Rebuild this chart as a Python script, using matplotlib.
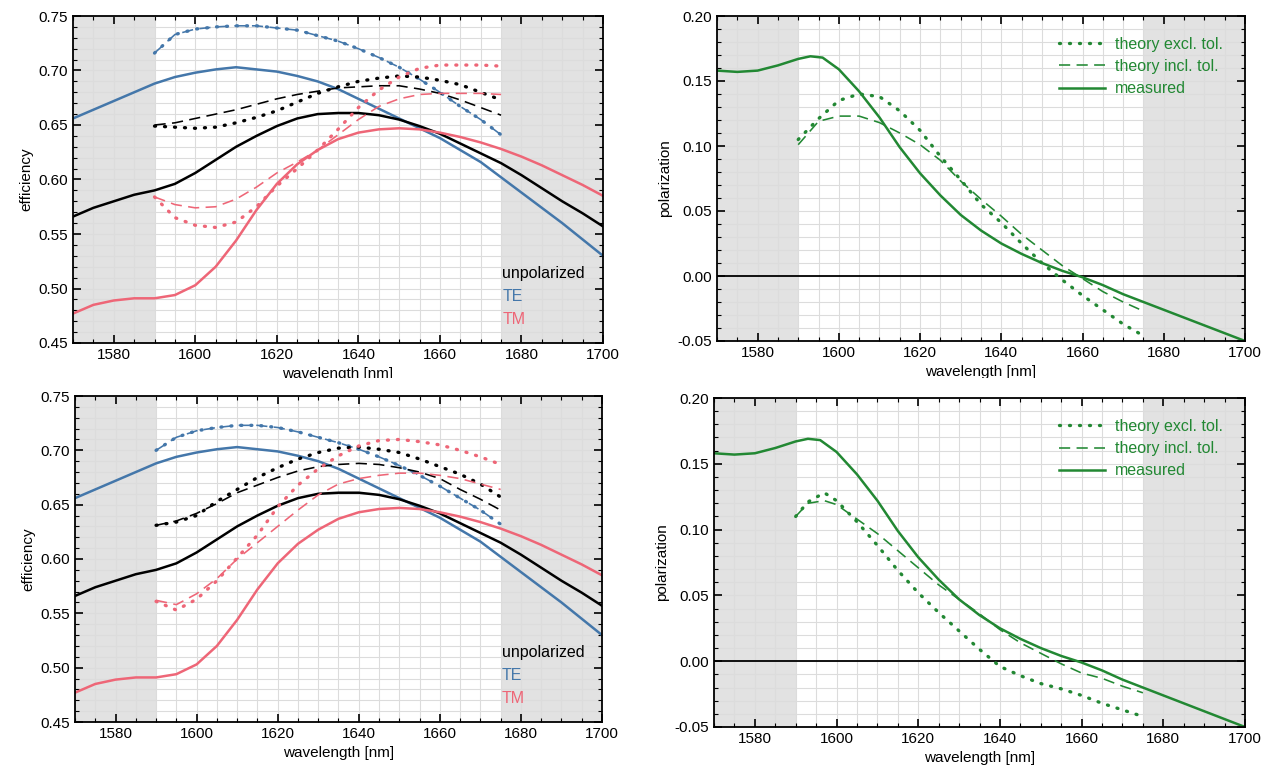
import numpy as np
import matplotlib.pyplot as plt
from matplotlib.ticker import MultipleLocator, FormatStrFormatter
from matplotlib.patches import Rectangle

plt.rcParams['font.family'] = ['Liberation Sans', 'DejaVu Sans']
plt.rcParams['font.size'] = 11

BLUE = '#4477aa'
RED = '#ee6677'
GREEN = '#228833'

# measured efficiency, 1570-1700 nm
wl = [1570, 1575, 1580, 1585, 1590, 1595, 1600, 1605, 1610, 1615, 1620, 1625, 1630, 1635,
      1640, 1645, 1650, 1655, 1660, 1665, 1670, 1675, 1680, 1685, 1690, 1695, 1700]
te_meas = [0.656, 0.664, 0.672, 0.680, 0.688, 0.694, 0.698, 0.701, 0.703, 0.701, 0.699, 0.695, 0.690, 0.683,
           0.674, 0.665, 0.656, 0.647, 0.638, 0.627, 0.616, 0.602, 0.588, 0.574, 0.560, 0.545, 0.530]
unpol_meas = [0.566, 0.574, 0.580, 0.586, 0.590, 0.596, 0.606, 0.618, 0.630, 0.640, 0.649, 0.656, 0.660, 0.661,
              0.661, 0.659, 0.655, 0.649, 0.642, 0.633, 0.624, 0.615, 0.604, 0.592, 0.580, 0.569, 0.557]
tm_meas = [0.477, 0.485, 0.489, 0.491, 0.491, 0.494, 0.503, 0.520, 0.544, 0.572, 0.596, 0.614, 0.627, 0.637,
           0.643, 0.646, 0.647, 0.646, 0.643, 0.639, 0.634, 0.628, 0.621, 0.613, 0.604, 0.595, 0.585]

# simulated efficiency, 1590-1675 nm
wl_th = [1590, 1595, 1600, 1605, 1610, 1615, 1620, 1625, 1630, 1635, 1640, 1645, 1650, 1655, 1660, 1665, 1670, 1675]

# design A
te_th_a = [0.716, 0.733, 0.738, 0.740, 0.741, 0.741, 0.739, 0.737, 0.732, 0.727, 0.720, 0.712, 0.703, 0.692, 0.680, 0.667, 0.655, 0.641]
unpol_excl_a = [0.649, 0.648, 0.647, 0.648, 0.652, 0.657, 0.663, 0.671, 0.679, 0.685, 0.690, 0.693, 0.695, 0.694, 0.691, 0.687, 0.680, 0.673]
unpol_incl_a = [0.650, 0.652, 0.656, 0.660, 0.664, 0.669, 0.674, 0.678, 0.681, 0.684, 0.685, 0.686, 0.686, 0.683, 0.679, 0.673, 0.666, 0.659]
tm_excl_a = [0.584, 0.565, 0.558, 0.556, 0.561, 0.575, 0.594, 0.610, 0.627, 0.646, 0.666, 0.682, 0.694, 0.702, 0.705, 0.705, 0.705, 0.704]
tm_incl_a = [0.584, 0.577, 0.574, 0.575, 0.582, 0.593, 0.606, 0.616, 0.627, 0.641, 0.655, 0.667, 0.674, 0.678, 0.679, 0.679, 0.679, 0.678]

# design B
te_th_b = [0.700, 0.712, 0.718, 0.721, 0.723, 0.723, 0.721, 0.717, 0.712, 0.707, 0.701, 0.694, 0.686, 0.677, 0.667, 0.656, 0.645, 0.632]
unpol_excl_b = [0.631, 0.634, 0.640, 0.653, 0.664, 0.675, 0.684, 0.692, 0.698, 0.702, 0.703, 0.701, 0.698, 0.692, 0.685, 0.678, 0.669, 0.657]
unpol_incl_b = [0.631, 0.635, 0.642, 0.651, 0.661, 0.668, 0.675, 0.681, 0.685, 0.687, 0.688, 0.687, 0.684, 0.680, 0.674, 0.664, 0.655, 0.645]
tm_excl_b = [0.561, 0.553, 0.563, 0.580, 0.601, 0.622, 0.648, 0.668, 0.683, 0.695, 0.704, 0.709, 0.710, 0.708, 0.705, 0.700, 0.694, 0.687]
tm_incl_b = [0.562, 0.558, 0.568, 0.582, 0.600, 0.615, 0.630, 0.645, 0.659, 0.669, 0.674, 0.677, 0.679, 0.679, 0.677, 0.674, 0.669, 0.664]

# polarization, measured
wl_pol = [1570, 1575, 1580, 1585, 1590, 1593, 1596, 1600, 1605, 1610, 1615, 1620, 1625, 1630,
          1635, 1640, 1645, 1650, 1655, 1660, 1665, 1670, 1675, 1680, 1685, 1690, 1695, 1700]
pol_meas = [0.158, 0.157, 0.158, 0.162, 0.167, 0.169, 0.168, 0.159, 0.142, 0.122, 0.099, 0.079, 0.062, 0.047,
            0.035, 0.025, 0.017, 0.010, 0.004, -0.001, -0.007, -0.014, -0.020, -0.026, -0.032, -0.038, -0.044, -0.050]

# polarization, theory
pol_excl_a = [0.105, 0.121, 0.135, 0.140, 0.138, 0.127, 0.112, 0.092, 0.074, 0.055, 0.041, 0.025, 0.010, -0.003, -0.015, -0.026, -0.037, -0.046]
pol_incl_a = [0.101, 0.119, 0.123, 0.123, 0.118, 0.110, 0.101, 0.089, 0.073, 0.059, 0.046, 0.032, 0.020, 0.008, -0.002, -0.012, -0.020, -0.027]

wl_th_b = [1590, 1593, 1597, 1600, 1605, 1610, 1615, 1620, 1625, 1630, 1635, 1640, 1645, 1650, 1655, 1660, 1665, 1670, 1675]
pol_excl_b = [0.110, 0.121, 0.128, 0.122, 0.106, 0.088, 0.069, 0.052, 0.037, 0.023, 0.009, -0.004, -0.011, -0.017, -0.021, -0.026, -0.032, -0.037, -0.042]
pol_incl_b = [0.110, 0.120, 0.122, 0.119, 0.108, 0.097, 0.084, 0.071, 0.058, 0.047, 0.036, 0.024, 0.014, 0.006, -0.002, -0.009, -0.013, -0.019, -0.024]

W, H = 1270, 772
DOT = dict(ls=(0, (0.3, 2.7)), lw=2.4, dash_capstyle='round', solid_capstyle='round')
DASH = dict(ls=(0, (7, 4)), lw=1.15)
SOLID = dict(ls='-', lw=1.8)


def make_axes(fig, left, top, right, bottom):
    # position given in pixels from the top-left corner
    return fig.add_axes([left / W, 1 - bottom / H, (right - left) / W, (bottom - top) / H])


def style(ax, ylim, ystep, ylabel):
    ax.set_xlim(1570, 1700)
    ax.set_ylim(*ylim)
    ax.axvspan(1570, 1590, color='#e2e2e2', lw=0, zorder=0.3)
    ax.axvspan(1675, 1700, color='#e2e2e2', lw=0, zorder=0.3)
    ax.xaxis.set_major_locator(MultipleLocator(20))
    ax.xaxis.set_minor_locator(MultipleLocator(5))
    ax.yaxis.set_major_locator(MultipleLocator(0.05))
    ax.yaxis.set_minor_locator(MultipleLocator(ystep))
    ax.yaxis.set_major_formatter(FormatStrFormatter('%.2f'))
    ax.grid(True, which='both', color='#dcdcdc', lw=0.8, zorder=0.5)
    ax.set_axisbelow(True)
    ax.tick_params(which='both', direction='in', top=True, right=True, labelsize=11)
    ax.tick_params(which='major', length=6, width=1.2)
    ax.tick_params(which='minor', length=3, width=0.8)
    for s in ax.spines.values():
        s.set_linewidth(1.3)
    ax.set_xlabel('wavelength [nm]', fontsize=11)
    ax.set_ylabel(ylabel, fontsize=11)


def efficiency_panel(ax, te_th, unpol_excl, unpol_incl, tm_excl, tm_incl):
    style(ax, (0.45, 0.75), 0.01, 'efficiency')
    ax.plot(wl, te_meas, color=BLUE, **SOLID)
    ax.plot(wl, unpol_meas, color='black', **SOLID)
    ax.plot(wl, tm_meas, color=RED, **SOLID)
    ax.plot(wl_th, te_th, color=BLUE, **DOT)
    ax.plot(wl_th, te_th, color=BLUE, **DASH)
    ax.plot(wl_th, unpol_excl, color='black', **DOT)
    ax.plot(wl_th, unpol_incl, color='black', **DASH)
    ax.plot(wl_th, tm_excl, color=RED, **DOT)
    ax.plot(wl_th, tm_incl, color=RED, **DASH)
    ax.text(1675.3, 0.514, 'unpolarized', color='black', fontsize=11.5, va='center')
    ax.text(1675.3, 0.493, 'TE', color=BLUE, fontsize=11.5, va='center')
    ax.text(1675.3, 0.472, 'TM', color=RED, fontsize=11.5, va='center')


def polarization_panel(ax, x_th, excl, incl):
    style(ax, (-0.05, 0.20), 0.01, 'polarization')
    ax.axhline(0, color='black', lw=1.3, zorder=1)
    ax.plot(x_th, excl, color=GREEN, label='theory excl. tol.', **DOT)
    ax.plot(x_th, incl, color=GREEN, label='theory incl. tol.', **DASH)
    ax.plot(wl_pol, pol_meas, color=GREEN, label='measured', **SOLID)
    ax.legend(loc='upper right', bbox_to_anchor=(0.985, 0.98), frameon=False, fontsize=11.5,
              labelcolor=GREEN, handlelength=2.9, handletextpad=0.6, labelspacing=0.45)


fig = plt.figure(figsize=(W / 100, H / 100), dpi=100)

ax1 = make_axes(fig, 73, 16, 603, 343)
efficiency_panel(ax1, te_th_a, unpol_excl_a, unpol_incl_a, tm_excl_a, tm_incl_a)

ax2 = make_axes(fig, 717, 16, 1245, 341)
polarization_panel(ax2, wl_th, pol_excl_a, pol_incl_a)

ax3 = make_axes(fig, 75, 396, 602, 722)
efficiency_panel(ax3, te_th_b, unpol_excl_b, unpol_incl_b, tm_excl_b, tm_incl_b)

ax4 = make_axes(fig, 714, 398, 1245, 727)
polarization_panel(ax4, wl_th_b, pol_excl_b, pol_incl_b)

# the upper row was cropped just below its axis labels
fig.add_artist(Rectangle((0, 1 - 385 / H), 1, 7 / H, transform=fig.transFigure,
                         facecolor='white', edgecolor='none', zorder=10))

fig.savefig('out.png', dpi=100)
